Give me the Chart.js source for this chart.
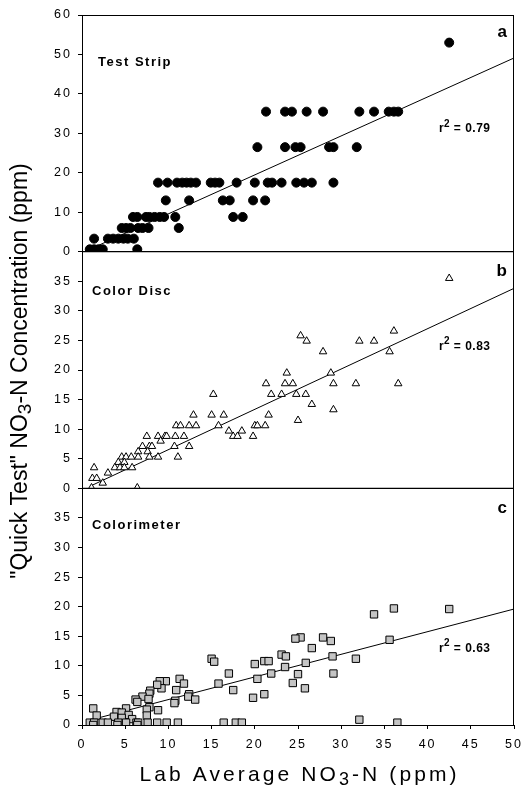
<!DOCTYPE html>
<html lang="en">
<head>
  <meta charset="UTF-8">
  <title>Quick Test vs Lab NO3-N</title>
  <script src="https://cdn.jsdelivr.net/npm/chart.js"></script>
  <style>
    html, body { margin: 0; padding: 0; background: #fff; }
    #wrap { width: 523px; height: 790px; position: relative; }
  </style>
</head>
<body>
  <div id="wrap"><canvas id="grafico" width="523" height="790"></canvas></div>
<script>
  // x tick labels
  const xTicks = [0, 5, 10, 15, 20, 25, 30, 35, 40, 45, 50];

  // panel a - test strip (lab ppm, quick test ppm)
  const stripX = [42.5,
    21.3, 23.5, 24.3, 26.0, 27.9, 32.1, 33.8, 35.5, 36.1, 36.6,
    20.3, 23.5, 24.7, 25.3, 28.6, 29.1, 31.8,
    8.8, 9.9, 11.0, 11.6, 12.1, 12.6, 13.2, 14.9, 15.4, 15.9, 17.9, 20.0, 21.5, 22.0, 23.1, 24.8, 25.7, 26.6, 29.1,
    9.7, 12.4, 16.3, 17.1, 19.8, 21.2,
    5.9, 6.4, 7.4, 7.8, 8.4, 9.0, 9.5, 10.8, 17.5, 18.6,
    4.6, 5.1, 5.6, 6.5, 7.0, 7.7, 11.2,
    1.4, 3.0, 3.6, 4.2, 4.8, 5.3, 6.0,
    0.9, 1.4, 1.9, 2.4, 6.4];
  const stripY = [53,
    35.5, 35.5, 35.5, 35.5, 35.5, 35.5, 35.5, 35.5, 35.5, 35.5,
    26.5, 26.5, 26.5, 26.5, 26.5, 26.5, 26.5,
    17.5, 17.5, 17.5, 17.5, 17.5, 17.5, 17.5, 17.5, 17.5, 17.5, 17.5, 17.5, 17.5, 17.5, 17.5, 17.5, 17.5, 17.5, 17.5,
    13, 13, 13, 13, 13, 13,
    8.8, 8.8, 8.8, 8.8, 8.8, 8.8, 8.8, 8.8, 8.8, 8.8,
    6, 6, 6, 6, 6, 6, 6,
    3.3, 3.3, 3.3, 3.3, 3.3, 3.3, 3.3,
    0.6, 0.6, 0.6, 0.6, 0.6];
  const stripFit = [[0.9, 0.6], [50, 49.1]];

  // panel b - color disc
  const discX = [42.5, 36.1, 25.3, 26.0, 32.1, 33.8, 27.9, 35.6, 23.7, 28.8,
    21.3, 23.5, 24.4, 29.1, 31.7, 36.6, 15.2, 21.9, 23.1, 24.8, 25.9, 26.6, 29.1, 25.0,
    12.9, 15.0, 16.4, 21.6, 10.9, 11.4, 12.4, 13.2, 15.8, 20.0, 20.3, 21.2,
    17.0, 18.5, 17.5, 18.0, 19.8, 7.5, 8.8, 9.6, 9.8, 10.8, 11.8, 9.1,
    10.7, 12.4, 7.0, 7.8, 8.1, 6.5, 7.6, 11.1, 4.6, 5.1, 5.7, 6.5, 7.8, 8.8,
    4.2, 4.9, 3.8, 4.4, 4.9, 5.8, 1.4, 3.0, 1.2, 1.7, 2.4, 1.1, 6.4];
  const discY = [35.5, 26.6, 25.8, 24.9, 24.9, 24.9, 23.1, 23.1, 19.5, 19.5,
    17.7, 17.7, 17.7, 17.7, 17.7, 17.7, 15.9, 15.9, 15.9, 15.9, 15.9, 14.2, 13.3, 11.5,
    12.4, 12.4, 12.4, 12.4, 10.6, 10.6, 10.6, 10.6, 10.6, 10.6, 10.6, 10.6,
    9.7, 9.7, 8.8, 8.8, 8.8, 8.8, 8.8, 8.8, 8.8, 8.8, 8.8, 8.0,
    7.1, 7.1, 7.1, 7.1, 7.1, 6.2, 6.2, 5.3, 5.3, 5.3, 5.3, 5.3, 5.3, 5.3,
    4.4, 4.4, 3.5, 3.5, 3.5, 3.5, 3.5, 2.6, 1.7, 1.7, 0.9, 0.1, 0.1];
  const discFit = [[1.0, 0.4], [50, 33.8]];

  // panel c - colorimeter
  const colorX = [42.5, 36.1, 33.8, 35.6, 25.3, 24.7, 27.9, 28.8, 26.6, 23.1, 23.6, 29.0,
    15.0, 15.3, 21.1, 21.6, 20.0, 25.9, 31.7, 23.5, 17.0, 21.9, 25.0, 29.1, 20.3, 15.8,
    24.4, 17.5, 25.8, 21.1, 19.8, 11.3, 11.8, 10.9, 12.4, 12.3, 13.1, 10.8, 10.7,
    9.7, 9.0, 9.2, 8.7, 7.9, 7.8, 7.0, 7.7, 6.2, 6.4, 7.8, 8.8, 7.5, 7.5,
    5.1, 4.0, 4.6, 3.7, 5.4, 4.6, 5.8, 1.3, 1.7,
    0.9, 1.4, 2.4, 3.0, 4.2, 5.1, 6.3, 6.5, 7.6, 8.7, 9.8, 11.1, 16.4, 17.8, 18.5, 36.5, 32.1,
    4.1, 6.4, 1.3];
  const colorY = [19.6, 19.7, 18.7, 14.4, 14.8, 14.6, 14.8, 14.2, 13.0, 11.9, 11.6, 11.6,
    11.2, 10.7, 10.8, 10.8, 10.3, 10.5, 11.2, 9.8, 8.7, 8.7, 8.6, 8.7, 7.8, 7.0,
    7.1, 5.9, 6.2, 5.2, 4.6, 7.8, 7.0, 5.9, 5.2, 4.8, 4.3, 4.1, 3.7,
    7.4, 7.4, 6.2, 6.8, 5.8, 5.3, 4.8, 4.4, 4.3, 3.9, 3.0, 2.5, 2.6, 1.6,
    2.8, 2.2, 2.1, 1.4, 1.7, 1.2, 1.0, 2.8, 1.6,
    0.4, 0.4, 0.4, 0.4, 0.4, 0.4, 0.4, 0.4, 0.4, 0.4, 0.4, 0.4, 0.4, 0.4, 0.4, 0.4, 0.9,
    0, 0, 0];
  const colorFit = [[1.9, 1.2], [50, 19.6]];

  const panelNames = ['Test Strip', 'Color Disc', 'Colorimeter'];
  const panelLetters = ['a', 'b', 'c'];
  const rSquared = ['0.79', '0.83', '0.63'];

  function pts(xs, ys) {
    return xs.map((x, i) => ({ x: x, y: ys[i] }));
  }
  function fitPts(f) {
    return f.map(p => ({ x: p[0], y: p[1] }));
  }

  const fam = 'Arial, "Liberation Sans", sans-serif';
  const tickFont = { family: fam, size: 12.5 };

  function yScale(max, weight) {
    return {
      type: 'linear',
      position: 'left',
      stack: 'paineis',
      stackWeight: 1,
      weight: weight,
      min: 0,
      max: max,
      afterFit: s => { s.width = 82; s.paddingTop = 0; s.paddingBottom = 0; },
      ticks: {
        stepSize: max === 60 ? 10 : 5,
        autoSkip: false,
        color: '#000',
        font: tickFont,
        padding: 6,
        callback: v => (max === 40 && v === 40) ? '' : v
      },
      grid: { drawOnChartArea: false, tickLength: 4, color: '#000' },
      border: { color: '#000', width: 1 }
    };
  }

  // letter spacing for the axis tick labels
  const spacing = {
    id: 'spacing',
    beforeDraw(chart) { chart.ctx.letterSpacing = '2px'; }
  };

  // frame, panel labels, axis titles with subscripts
  const extras = {
    id: 'extras',
    afterDraw(chart) {
      const c = chart.ctx;
      const a = chart.chartArea;
      const ys = [chart.scales.ya, chart.scales.yb, chart.scales.yc];
      c.save();
      c.strokeStyle = '#000';
      c.lineWidth = 1;
      c.beginPath();
      c.moveTo(a.left, a.top + 0.5); c.lineTo(a.right, a.top + 0.5);
      c.moveTo(a.right - 0.5, a.top); c.lineTo(a.right - 0.5, a.bottom);
      c.stroke();
      c.lineWidth = 1.3;
      c.beginPath();
      [ys[1].top, ys[2].top].forEach(t => { c.moveTo(a.left, t); c.lineTo(a.right, t); });
      c.stroke();

      const nameOff = [47, 40, 37];
      const letterOff = [17, 20, 20];
      const rOff = [114, 95, 160];
      c.fillStyle = '#000';
      c.textBaseline = 'middle';
      ys.forEach((s, i) => {
        c.letterSpacing = '1.5px';
        c.font = 'bold 13px ' + fam;
        c.textAlign = 'left';
        c.fillText(panelNames[i], a.left + (i === 0 ? 16 : 10), s.top + nameOff[i]);
        c.letterSpacing = '0px';
        c.font = 'bold 17px ' + fam;
        c.textAlign = 'right';
        c.fillText(panelLetters[i], a.right - 7, s.top + letterOff[i]);
        c.letterSpacing = '0.5px';
        c.font = 'bold 12px ' + fam;
        c.textAlign = 'left';
        const tx = a.right - 75, ty = s.top + rOff[i];
        c.fillText('r', tx, ty);
        c.font = 'bold 10px ' + fam;
        c.fillText('2', tx + 5, ty - 5);
        c.font = 'bold 12px ' + fam;
        c.fillText(' = ' + rSquared[i], tx + 11, ty);
      });

      function subText(parts, x, y, bigPx, smallPx, ls) {
        const big = bigPx + 'px ' + fam, small = smallPx + 'px ' + fam;
        c.letterSpacing = ls + 'px';
        c.font = big; const w1 = c.measureText(parts[0]).width;
        c.font = small; const w2 = c.measureText(parts[1]).width;
        c.font = big; const w3 = c.measureText(parts[2]).width;
        let cx = x - (w1 + w2 + w3 - ls) / 2;
        c.textAlign = 'left';
        c.font = big; c.fillText(parts[0], cx, y); cx += w1;
        c.font = small; c.fillText(parts[1], cx, y + bigPx * 0.22); cx += w2;
        c.font = big; c.fillText(parts[2], cx, y);
      }
      c.textBaseline = 'middle';
      subText(['Lab Average NO', '3', '-N (ppm)'], (a.left + a.right) / 2, 775, 21, 18, 3.1);
      c.translate(21, (a.top + a.bottom) / 2 + 1);
      c.rotate(-Math.PI / 2);
      subText(['"Quick Test" NO', '3', '-N Concentration (ppm)'], 0, 0, 23, 19, 0);
      c.restore();
    }
  };

  const marker = (style, r, fill) => ({
    type: 'scatter', pointStyle: style, pointRadius: r, pointHoverRadius: r,
    backgroundColor: fill, borderColor: '#000', borderWidth: 1
  });
  const fitLine = (data, axis) => ({
    type: 'line', data: data, yAxisID: axis, borderColor: '#000', borderWidth: 1,
    pointRadius: 0, fill: false
  });

  new Chart(document.getElementById('grafico'), {
    data: {
      datasets: [
        Object.assign(marker('circle', 4.5, '#000'), { label: panelNames[0], data: pts(stripX, stripY), yAxisID: 'ya' }),
        Object.assign(marker('triangle', 4.3, '#fff'), { label: panelNames[1], data: pts(discX, discY), yAxisID: 'yb' }),
        Object.assign(marker('rect', 5.2, '#c4c4c4'), { label: panelNames[2], data: pts(colorX, colorY), yAxisID: 'yc' }),
        fitLine(fitPts(stripFit), 'ya'),
        fitLine(fitPts(discFit), 'yb'),
        fitLine(fitPts(colorFit), 'yc')
      ]
    },
    options: {
      responsive: false,
      animation: false,
      devicePixelRatio: 1,
      layout: { padding: { top: 15, right: 9, left: 0, bottom: 0 } },
      plugins: { legend: { display: false }, tooltip: { enabled: false } },
      scales: {
        x: {
          type: 'linear', min: 0, max: 50,
          afterFit: s => { s.height = 65; s.paddingLeft = 0; s.paddingRight = 0; },
          afterBuildTicks: s => { s.ticks = xTicks.map(v => ({ value: v })); },
          ticks: { color: '#000', font: tickFont, padding: 8, maxRotation: 0, autoSkip: false },
          grid: { drawOnChartArea: false, tickLength: 4, color: '#000' },
          border: { color: '#000', width: 1 }
        },
        ya: yScale(60, 3),
        yb: yScale(40, 2),
        yc: yScale(40, 1)
      }
    },
    plugins: [spacing, extras]
  });
</script>
</body>
</html>
